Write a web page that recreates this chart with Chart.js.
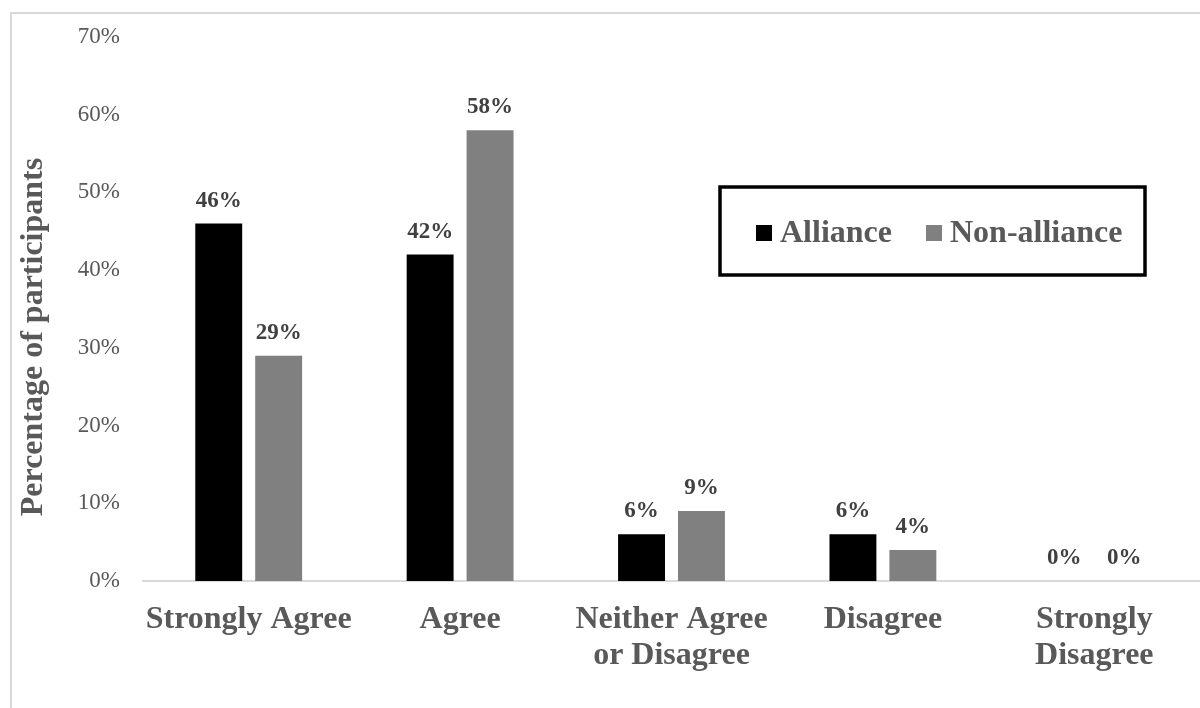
<!DOCTYPE html>
<html>
<head>
<meta charset="utf-8">
<script src="https://cdn.jsdelivr.net/npm/chart.js@4/dist/chart.umd.min.js"></script>
<style>
  html, body { margin: 0; padding: 0; background: #ffffff; }
  #wrap { width: 1200px; height: 708px; position: relative; }
</style>
</head>
<body>
<div id="wrap"><canvas id="c" width="1200" height="708"></canvas></div>
<script>
const categories = [
  "Strongly Agree",
  "Agree",
  ["Neither Agree", "or Disagree"],
  "Disagree",
  ["Strongly", "Disagree"]
];
const seriesNames = ["Alliance", "Non-alliance"];
const allianceValues = [46, 42, 6, 6, 0];
const nonAllianceValues = [29, 58, 9, 4, 0];
const yTickMax = 70;
const yTickStep = 10;
const yAxisTitle = "Percentage of participants";

const SERIF = '"Liberation Serif", "Times New Roman", serif';
const seriesColors = ["#000000", "#808080"];

const frameBorder = {
  id: 'frameBorder',
  beforeDraw(chart) {
    const ctx = chart.ctx;
    ctx.save();
    ctx.fillStyle = '#ffffff';
    ctx.fillRect(0, 0, chart.width, chart.height);
    ctx.strokeStyle = '#d9d9d9';
    ctx.lineWidth = 2;
    ctx.beginPath();
    ctx.moveTo(11, chart.height + 5);
    ctx.lineTo(11, 13);
    ctx.lineTo(chart.width + 5, 13);
    ctx.stroke();
    ctx.restore();
  }
};

const yTitle = {
  id: 'yTitle',
  afterDraw(chart) {
    const ctx = chart.ctx;
    ctx.save();
    ctx.translate(34, 337);
    ctx.rotate(-Math.PI / 2);
    ctx.font = 'bold 32px ' + SERIF;
    ctx.fillStyle = '#595959';
    ctx.textAlign = 'center';
    ctx.textBaseline = 'middle';
    ctx.fillText(yAxisTitle, 0, 0);
    ctx.restore();
  }
};

const dataLabels = {
  id: 'dataLabels',
  afterDatasetsDraw(chart) {
    const ctx = chart.ctx;
    ctx.save();
    ctx.font = 'bold 23px ' + SERIF;
    ctx.fillStyle = '#404040';
    ctx.textAlign = 'center';
    ctx.textBaseline = 'alphabetic';
    chart.data.datasets.forEach((ds, di) => {
      const meta = chart.getDatasetMeta(di);
      meta.data.forEach((bar, i) => {
        ctx.fillText(ds.data[i] + '%', bar.x, bar.y - 17);
      });
    });
    ctx.restore();
  }
};

const boxLegend = {
  id: 'boxLegend',
  afterDraw(chart) {
    const ctx = chart.ctx;
    ctx.save();
    ctx.strokeStyle = '#000000';
    ctx.lineWidth = 3.5;
    ctx.strokeRect(720, 187, 425, 88);
    ctx.font = 'bold 32px ' + SERIF;
    ctx.textBaseline = 'alphabetic';
    ctx.textAlign = 'left';
    const items = [
      { sx: 756, tx: 780 },
      { sx: 926, tx: 950 }
    ];
    chart.data.datasets.forEach((ds, i) => {
      const it = items[i];
      ctx.fillStyle = ds.backgroundColor;
      ctx.fillRect(it.sx, 225, 16, 16);
      ctx.fillStyle = '#595959';
      ctx.fillText(ds.label, it.tx, 242);
    });
    ctx.restore();
  }
};

new Chart(document.getElementById('c'), {
  type: 'bar',
  data: {
    labels: categories,
    datasets: [
      { label: seriesNames[0], data: allianceValues, backgroundColor: seriesColors[0] },
      { label: seriesNames[1], data: nonAllianceValues, backgroundColor: seriesColors[1] }
    ]
  },
  options: {
    responsive: false,
    animation: false,
    devicePixelRatio: 1,
    layout: { padding: { left: 0, right: 0, top: 37, bottom: 0 } },
    datasets: {
      bar: { categoryPercentage: 0.567, barPercentage: 0.783 }
    },
    plugins: {
      legend: { display: false },
      tooltip: { enabled: false },
      title: { display: false }
    },
    scales: {
      x: {
        grid: { display: false, drawTicks: false },
        border: { display: true, color: '#d9d9d9', width: 2 },
        ticks: {
          color: '#595959',
          font: { family: SERIF, size: 32, weight: 'bold', lineHeight: 1.125 },
          padding: 21,
          maxRotation: 0,
          autoSkip: false
        },
        afterFit(scale) { scale.height = 127; }
      },
      y: {
        min: 0,
        max: yTickMax,
        grid: { display: false, drawTicks: false },
        border: { display: false },
        ticks: {
          stepSize: yTickStep,
          color: '#595959',
          font: { family: SERIF, size: 23 },
          padding: 23,
          callback: v => v + '%'
        },
        title: { display: false },
        afterFit(scale) { scale.width = 143; }
      }
    }
  },
  plugins: [frameBorder, dataLabels, boxLegend, yTitle]
});
</script>
</body>
</html>
